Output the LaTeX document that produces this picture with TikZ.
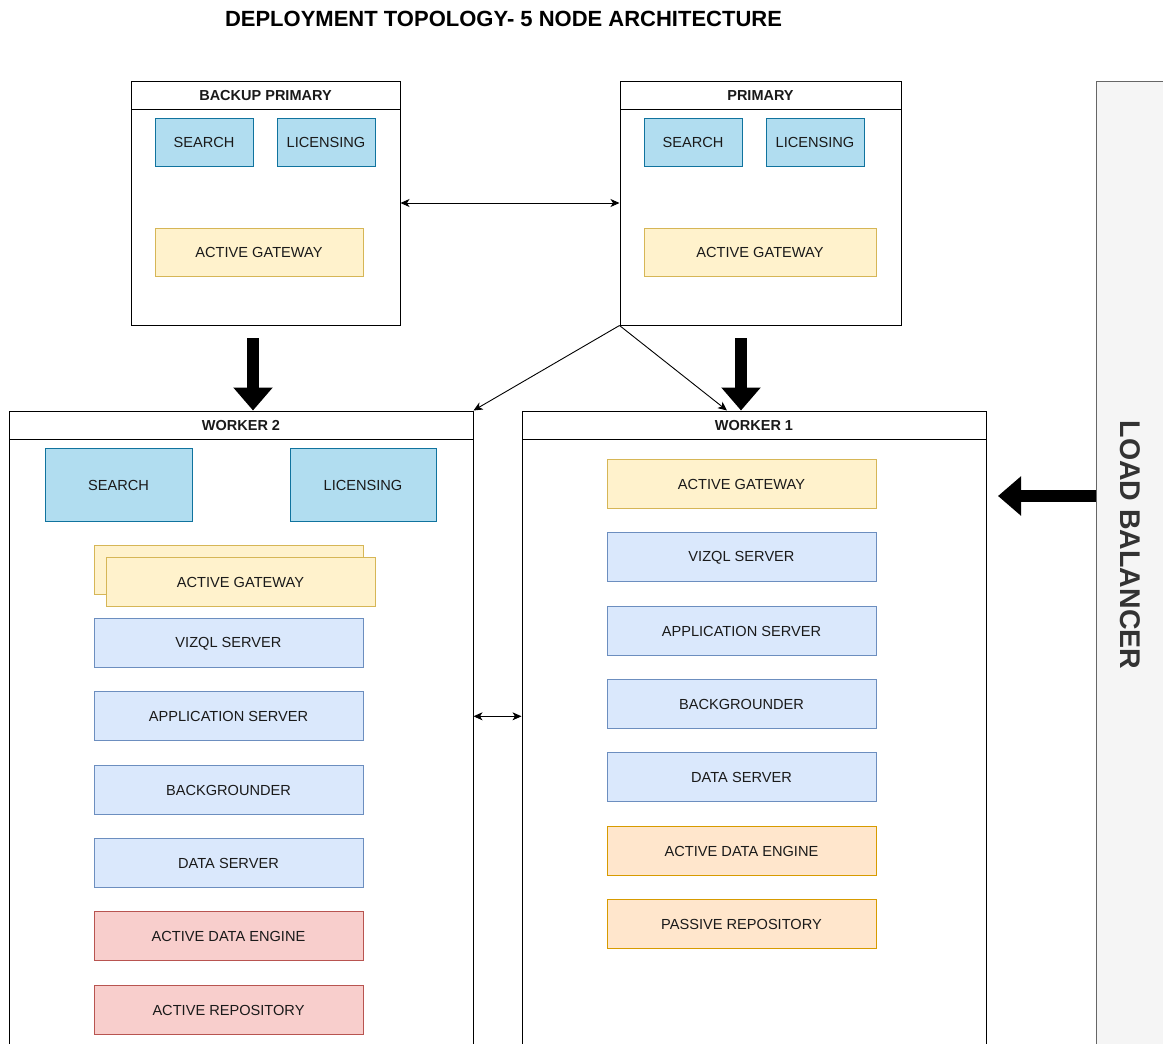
\documentclass[tikz,border=0pt]{standalone}
\usepackage{fontspec}
\setmainfont{Liberation Sans}
\usetikzlibrary{%
  arrows.meta,%
  positioning,% wg. " of "
  calc%
}

\definecolor{searchfill}{HTML}{B1DDF0}
\definecolor{searchline}{HTML}{10739E}
\definecolor{serverfill}{HTML}{DAE8FC}
\definecolor{serverline}{HTML}{6C8EBF}
\definecolor{gatefill}{HTML}{FFF2CC}
\definecolor{gateline}{HTML}{D6B656}
\definecolor{redfill}{HTML}{F8CECC}
\definecolor{redline}{HTML}{B85450}
\definecolor{orangefill}{HTML}{FFE6CC}
\definecolor{orangeline}{HTML}{D79B00}
\definecolor{lbfill}{HTML}{F5F5F5}
\definecolor{lbline}{HTML}{666666}
\definecolor{lbtext}{HTML}{333333}
\definecolor{boxtext}{HTML}{1A1A1A}

\begin{document}
\begin{tikzpicture}
  [
  x=1pt, y=-1pt,
  font=\fontsize{14.6}{16}\selectfont,
  line width=1pt,
  >={Stealth[length=9pt,width=8pt,inset=2.5pt]},
  thinarrow/.style={line width=0.9pt, draw=black},
  fatarrow/.style={line width=12pt, draw=black, -{Triangle[length=23pt,width=38pt]}},
  hostnode/.style={rectangle, inner sep=0pt, draw=black, fill=white},
  headnode/.style={rectangle, inner sep=0pt, minimum height=28pt, text height=11pt, draw=black, text=boxtext, font=\fontsize{14.5}{16}\selectfont\bfseries},
  svcnode/.style={rectangle, inner sep=0pt, minimum width=269pt, minimum height=49pt, text height=11.5pt, text=boxtext},
  searchnode/.style={svcnode, fill=searchfill, draw=searchline},
  servernode/.style={svcnode, fill=serverfill, draw=serverline},
  gatewaynode/.style={svcnode, fill=gatefill, draw=gateline},
  rednode/.style={svcnode, fill=redfill, draw=redline},
  orangenode/.style={svcnode, fill=orangefill, draw=orangeline},
  ]

\useasboundingbox (0,0) rectangle (1163,1044);
\clip (0,0) rectangle (1163,1044);
\fill[white] (0,0) rectangle (1163,1044);

\node[font=\fontsize{22}{24}\selectfont\bfseries] (title) at (503.5,19) {DEPLOYMENT TOPOLOGY- 5 NODE ARCHITECTURE};

\node[hostnode, minimum width=269pt, minimum height=244pt] (bp) at (265.5,203) {};
\node[headnode, minimum width=269pt, anchor=north] (bphead) at (bp.north) {BACKUP PRIMARY};
\node[searchnode, minimum width=98pt, minimum height=48pt] (bpsearch) at (204,142) {SEARCH};
\node[searchnode, minimum width=98pt, minimum height=48pt] (bplic) at (326,142) {LICENSING};
\node[gatewaynode, minimum width=208pt, minimum height=48pt] (bpgate) at (259,252) {ACTIVE GATEWAY};

\node[hostnode, minimum width=281pt, minimum height=244pt] (p) at (760.5,203) {};
\node[headnode, minimum width=281pt, anchor=north] (phead) at (p.north) {PRIMARY};
\node[searchnode, minimum width=98pt, minimum height=48pt] (psearch) at (693,142) {SEARCH};
\node[searchnode, minimum width=98pt, minimum height=48pt] (plic) at (815,142) {LICENSING};
\node[gatewaynode, minimum width=232pt, minimum height=48pt] (pgate) at (760,252) {ACTIVE GATEWAY};

\node[hostnode, minimum width=464pt, minimum height=700pt] (w2) at (241,761) {};
\node[headnode, minimum width=464pt, anchor=north] (w2head) at (w2.north) {WORKER 2};
\node[searchnode, minimum width=147pt, minimum height=73pt] (w2search) at (118.5,484.5) {SEARCH};
\node[searchnode, minimum width=146pt, minimum height=73pt] (w2lic) at (363,484.5) {LICENSING};
\node[gatewaynode] (w2gateback) at (228.5,569.5) {};
\node[gatewaynode] (w2gate) at (240.5,581.5) {ACTIVE GATEWAY};
\node[servernode] (w2vizql) at (228.5,643) {VIZQL SERVER};
\node[servernode] (w2app) at (228.5,716.3) {APPLICATION SERVER};
\node[servernode] (w2back) at (228.5,789.6) {BACKGROUNDER};
\node[servernode] (w2data) at (228.5,862.9) {DATA SERVER};
\node[rednode] (w2engine) at (228.5,936.2) {ACTIVE DATA ENGINE};
\node[rednode] (w2repo) at (228.5,1009.5) {ACTIVE REPOSITORY};

\node[hostnode, minimum width=464pt, minimum height=700pt] (w1) at (754,761) {};
\node[headnode, minimum width=464pt, anchor=north] (w1head) at (w1.north) {WORKER 1};
\node[gatewaynode] (w1gate) at (741.5,484) {ACTIVE GATEWAY};
\node[servernode] (w1vizql) at (741.5,557.3) {VIZQL SERVER};
\node[servernode] (w1app) at (741.5,630.6) {APPLICATION SERVER};
\node[servernode] (w1back) at (741.5,703.9) {BACKGROUNDER};
\node[servernode] (w1data) at (741.5,777.2) {DATA SERVER};
\node[orangenode] (w1engine) at (741.5,850.5) {ACTIVE DATA ENGINE};
\node[orangenode] (w1repo) at (741.5,923.8) {PASSIVE REPOSITORY};

\node[rectangle, inner sep=0pt, minimum width=70pt, minimum height=1000pt, draw=lbline, fill=lbfill] (lb) at (1131,581) {};
\node[rotate=-90, text=lbtext, font=\fontsize{28.5}{32}\selectfont\bfseries] (lblabel) at (1130,545) {LOAD BALANCER};

\draw[thinarrow, <->] (bp.east) -- (p.west);
\draw[thinarrow, ->] (p.south west) -- (w2.north east);
\draw[thinarrow, ->] (p.south west) -- ([xshift=-27pt]w1.north);
\draw[thinarrow, <->] (w2app -| w2.east) -- (w2app -| w1.west);

\coordinate (bpout) at (253,338);
\coordinate (pout) at (741,338);
\coordinate (lbtip) at (998,496);
\draw[fatarrow] (bpout) -- (bpout |- w2.north);
\draw[fatarrow] (pout) -- (pout |- w1.north);
\draw[fatarrow] (lb.west |- lbtip) -- (lbtip);
\end{tikzpicture}
\end{document}
